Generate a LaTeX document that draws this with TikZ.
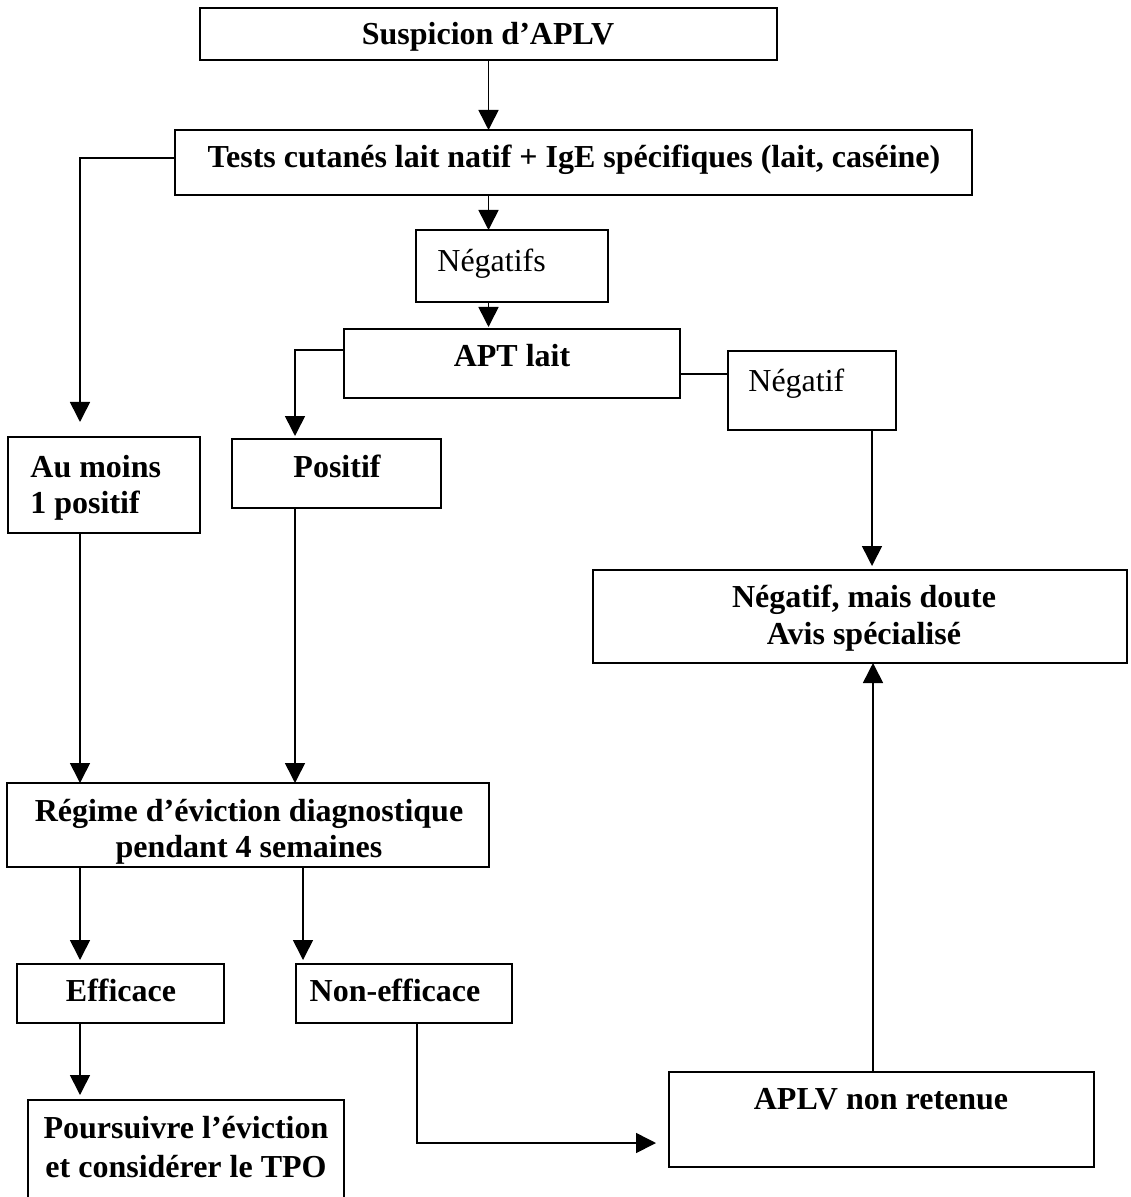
\documentclass[tikz,border=0pt]{standalone}
\usepackage{fontspec}
\setmainfont{Liberation Serif}
\usetikzlibrary{arrows.meta,calc}
\newcommand\mybox[5]{\node[box,minimum width={(#4-#2)*0.5pt},minimum height={(#5-#3)*0.5pt}] (#1) at ({(#2+#4)/2},{(#3+#5)/2}) {};}
\begin{document}
\begin{tikzpicture}[x=0.5pt,y=-0.5pt,
  box/.style={draw,line width=1pt,inner sep=0pt,outer sep=0pt},
  txt/.style={anchor=base,inner sep=0pt,font=\fontsize{16}{18}\selectfont\bfseries},
  txtl/.style={anchor=base west,inner sep=0pt,font=\fontsize{16}{18}\selectfont\bfseries},
  txtn/.style={anchor=base west,inner sep=0pt,font=\fontsize{16}{18}\selectfont},
  arr/.style={line width=0.8pt,-{Triangle[length=10pt,width=10pt]}},
  ln/.style={line width=0.8pt}]
\useasboundingbox (0,0) rectangle (1130,1197);
% boxes
\mybox{sus}{200}{8}{777}{60}
\mybox{tests}{175}{130}{972}{195}
\mybox{negs}{416}{230}{608}{302}
\mybox{apt}{344}{329}{680}{398}
\mybox{neg}{728}{351}{896}{430}
\mybox{aumoins}{8}{437}{200}{533}
\mybox{pos}{232}{439}{441}{508}
\mybox{doute}{593}{570}{1127}{663}
\mybox{regime}{7}{783}{489}{867}
\mybox{eff}{17}{964}{224}{1023}
\mybox{noneff}{296}{964}{512}{1023}
\mybox{aplvnr}{669}{1072}{1094}{1167}
\mybox{pours}{28}{1100}{344}{1215}
% texts
\node[txt] (sus-t) at (488,45) {Suspicion d’APLV};
\node[txt] (tests-t) at (574,168) {Tests cutanés lait natif + IgE spécifiques (lait, caséine)};
\node[txtn] (negs-t) at (437,272) {Négatifs};
\node[txt] (apt-t) at (512,367) {APT lait};
\node[txtn] (neg-t) at (748,392) {Négatif};
\node[txtl] (aumoins-t1) at (30,477) {Au moins};
\node[txtl] (aumoins-t2) at (30,513) {1 positif};
\node[txt] (pos-t) at (337,477) {Positif};
\node[txt] (doute-t1) at (864,607) {Négatif, mais doute};
\node[txt] (doute-t2) at (864,644) {Avis spécialisé};
\node[txt] (regime-t1) at (249,821) {Régime d’éviction diagnostique};
\node[txt] (regime-t2) at (249,857) {pendant 4 semaines};
\node[txt] (eff-t) at (121,1001) {Efficace};
\node[txt] (noneff-t) at (395,1001) {Non-efficace};
\node[txt] (aplvnr-t) at (881,1109) {APLV non retenue};
\node[txt] (pours-t1) at (186,1138) {Poursuivre l’éviction};
\node[txt] (pours-t2) at (186,1177) {et considérer le TPO};
% helper coordinates
\coordinate (k1) at (80,158);
\coordinate (k2) at (295,350);
\coordinate (k3) at (0,374);
\coordinate (k4) at (872,0);
\coordinate (k5) at (303,0);
\coordinate (k6) at (417,1143);
\coordinate (k7) at (873,0);
% connectors
\draw[arr] (sus.south) -- (sus.south |- tests.north);
\draw[arr] (tests.south -| sus.south) -- (negs.north -| sus.south);
\draw[arr,shorten >=1pt] (negs.south -| sus.south) -- (apt.north -| sus.south);
\draw[arr,shorten >=7.5pt] (tests.west |- k1) -| (aumoins.north -| k1);
\draw[arr,shorten >=1.5pt] (apt.west |- k2) -| (pos.north -| k2);
\draw[ln] (apt.east |- k3) -- (neg.west |- k3);
\draw[arr,shorten >=2pt] (neg.south -| k4) -- (doute.north -| k4);
\draw[arr] (aumoins.south -| k1) -- (regime.north -| k1);
\draw[arr] (pos.south -| k2) -- (regime.north -| k2);
\draw[arr,shorten >=2pt] (regime.south -| k1) -- (eff.north -| k1);
\draw[arr,shorten >=2pt] (regime.south -| k5) -- (noneff.north -| k5);
\draw[arr,shorten >=2.5pt] (eff.south -| k1) -- (pours.north -| k1);
\draw[arr,shorten >=6.5pt] (noneff.south -| k6) |- (aplvnr.west |- k6);
\draw[arr] (aplvnr.north -| k7) -- (doute.south -| k7);
\end{tikzpicture}
\end{document}
